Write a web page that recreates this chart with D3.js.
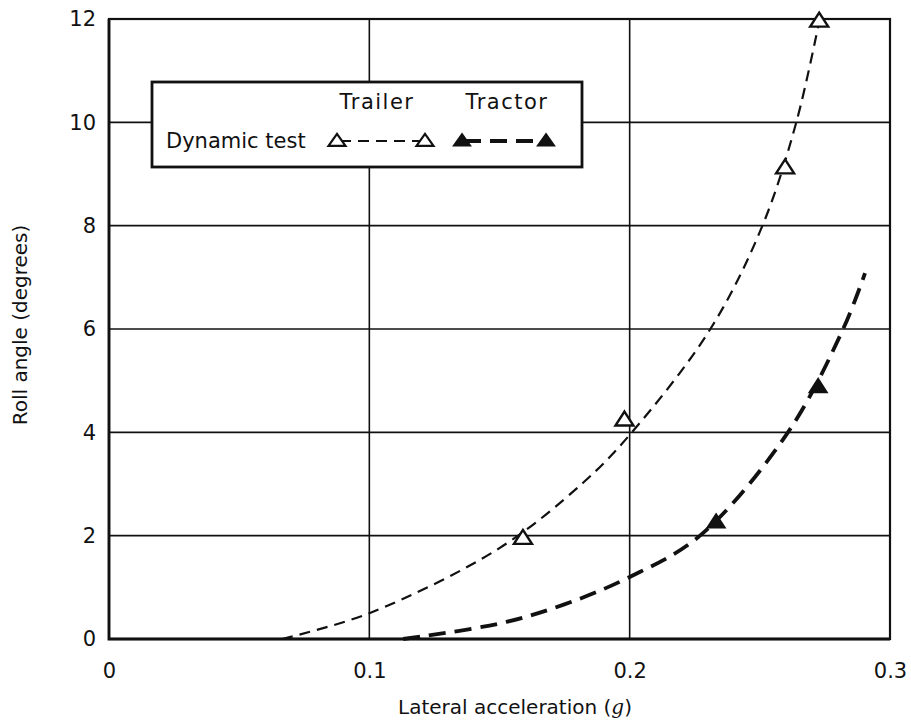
<!DOCTYPE html>
<html>
<head>
<meta charset="utf-8">
<script src="https://cdn.jsdelivr.net/npm/d3@7"></script>
<style>
  body { margin: 0; background: #fff; }
  svg text { font-family: "DejaVu Sans", "Liberation Sans", sans-serif; fill: #111; }
</style>
</head>
<body>
<div id="chart"></div>
<script>
// tick values
const xTicks = [0, 0.1, 0.2, 0.3];
const yTicks = [0, 2, 4, 6, 8, 10, 12];

// measured points (dynamic test)
const trailerX = [0.159, 0.198, 0.2597, 0.2728];
const trailerY = [1.95, 4.24, 9.12, 11.96];
const tractorX = [0.2332, 0.2724];
const tractorY = [2.26, 4.88];

// fitted curves
const trailerCurveX = [0.0665, 0.1, 0.15, 0.182, 0.2, 0.231, 0.251, 0.264, 0.273];
const trailerCurveY = [0, 0.5, 1.76, 3.02, 3.95, 6, 8, 10, 12];
const tractorCurveX = [0.113, 0.15, 0.1744, 0.2, 0.227, 0.2608, 0.282, 0.2904];
const tractorCurveY = [0, 0.3, 0.66, 1.2, 2, 4, 6, 7.08];

const W = 911, H = 726;
const margin = {top: 19, right: 21, bottom: 87, left: 109},
    width = W - margin.left - margin.right,
    height = H - margin.top - margin.bottom;

const svg = d3.select("#chart")
    .append("svg")
    .attr("width", W)
    .attr("height", H);

const g = svg.append("g")
    .attr("transform", `translate(${margin.left},${margin.top})`);

const x = d3.scaleLinear().domain([0, 0.3]).range([0, width]);
const y = d3.scaleLinear().domain([0, 12]).range([height, 0]);

// grid lines
g.append("g")
    .selectAll("line")
    .data(xTicks.slice(1, -1))
    .join("line")
    .attr("x1", d => x(d)).attr("x2", d => x(d))
    .attr("y1", 0).attr("y2", height)
    .attr("stroke", "#111").attr("stroke-width", 1.6);

g.append("g")
    .selectAll("line")
    .data(yTicks.slice(1, -1))
    .join("line")
    .attr("x1", 0).attr("x2", width)
    .attr("y1", d => y(d)).attr("y2", d => y(d))
    .attr("stroke", "#111").attr("stroke-width", 1.6);

// frame
g.append("rect")
    .attr("x", 0).attr("y", 0)
    .attr("width", width).attr("height", height)
    .attr("fill", "none")
    .attr("stroke", "#111")
    .attr("stroke-width", 2.2);
// heavier left and bottom axis
g.append("path")
    .attr("d", `M0,0V${height}H${width}`)
    .attr("fill", "none")
    .attr("stroke", "#111")
    .attr("stroke-width", 2.8);

// axes (labels only, frame drawn above)
const xAxis = g.append("g")
    .attr("transform", `translate(0,${height})`)
    .call(d3.axisBottom(x).tickValues(xTicks).tickSize(0).tickPadding(24)
        .tickFormat(d => d === 0 ? "0" : d3.format(".1f")(d)));
const yAxis = g.append("g")
    .call(d3.axisLeft(y).tickValues(yTicks).tickSize(0).tickPadding(13)
        .tickFormat(d3.format("d")));
[xAxis, yAxis].forEach(a => {
    a.select(".domain").remove();
    a.selectAll("text")
        .style("font-family", "'DejaVu Sans', sans-serif")
        .style("font-size", "21px")
        .attr("fill", "#111");
});

// axis titles
const xTitle = svg.append("text")
    .attr("x", 515)
    .attr("y", 714)
    .attr("text-anchor", "middle")
    .style("font-size", "20px");
xTitle.append("tspan").text("Lateral acceleration ");
xTitle.append("tspan").text("(");
xTitle.append("tspan")
    .style("font-family", "'DejaVu Serif', 'Liberation Serif', serif")
    .style("font-style", "italic")
    .text("g");
xTitle.append("tspan").text(")");

svg.append("text")
    .attr("transform", "translate(27,325) rotate(-90)")
    .attr("text-anchor", "middle")
    .style("font-size", "20px")
    .text("Roll angle (degrees)");

// triangle marker path centred on 0,0
function tri(w, h) {
    return `M0,${-h * 0.6}L${w / 2},${h * 0.4}L${-w / 2},${h * 0.4}Z`;
}

// curves
const line = d3.line()
    .x(d => x(d[0]))
    .y(d => y(d[1]))
    .curve(d3.curveCatmullRom.alpha(0.5));

g.append("path")
    .datum(d3.zip(trailerCurveX, trailerCurveY))
    .attr("d", line)
    .attr("fill", "none")
    .attr("stroke", "#111")
    .attr("stroke-width", 2.2)
    .attr("stroke-dasharray", "11,7");

g.append("path")
    .datum(d3.zip(tractorCurveX, tractorCurveY))
    .attr("d", line)
    .attr("fill", "none")
    .attr("stroke", "#111")
    .attr("stroke-width", 3.8)
    .attr("stroke-dasharray", "17,9");

// markers
g.append("g")
    .selectAll("path")
    .data(d3.zip(trailerX, trailerY))
    .join("path")
    .attr("d", tri(18, 14))
    .attr("transform", d => `translate(${x(d[0])},${y(d[1])})`)
    .attr("fill", "#fff")
    .attr("stroke", "#111")
    .attr("stroke-width", 2.4);

g.append("g")
    .selectAll("path")
    .data(d3.zip(tractorX, tractorY))
    .join("path")
    .attr("d", tri(18, 14))
    .attr("transform", d => `translate(${x(d[0])},${y(d[1])})`)
    .attr("fill", "#111")
    .attr("stroke", "#111")
    .attr("stroke-width", 1.5);

// legend
const legend = svg.append("g");
legend.append("rect")
    .attr("x", 152).attr("y", 82)
    .attr("width", 430).attr("height", 85)
    .attr("fill", "#fff")
    .attr("stroke", "#111")
    .attr("stroke-width", 2.8);

legend.append("text")
    .attr("x", 377).attr("y", 109)
    .attr("text-anchor", "middle")
    .style("font-size", "21px")
    .style("letter-spacing", "1.5px")
    .text("Trailer");
legend.append("text")
    .attr("x", 507).attr("y", 109)
    .attr("text-anchor", "middle")
    .style("font-size", "21px")
    .style("letter-spacing", "1.5px")
    .text("Tractor");
legend.append("text")
    .attr("x", 166).attr("y", 148)
    .style("font-size", "21px")
    .text("Dynamic test");

legend.append("line")
    .attr("x1", 340).attr("x2", 422)
    .attr("y1", 141).attr("y2", 141)
    .attr("stroke", "#111").attr("stroke-width", 2.2)
    .attr("stroke-dasharray", "11,7");
legend.append("line")
    .attr("x1", 464).attr("x2", 544)
    .attr("y1", 141).attr("y2", 141)
    .attr("stroke", "#111").attr("stroke-width", 3.8)
    .attr("stroke-dasharray", "17,9");

[337, 425].forEach(cx => legend.append("path")
    .attr("d", tri(17, 12))
    .attr("transform", `translate(${cx},141)`)
    .attr("fill", "#fff").attr("stroke", "#111").attr("stroke-width", 2.2));
[462, 546].forEach(cx => legend.append("path")
    .attr("d", tri(17, 12))
    .attr("transform", `translate(${cx},141)`)
    .attr("fill", "#111").attr("stroke", "#111").attr("stroke-width", 1.5));
</script>
</body>
</html>
